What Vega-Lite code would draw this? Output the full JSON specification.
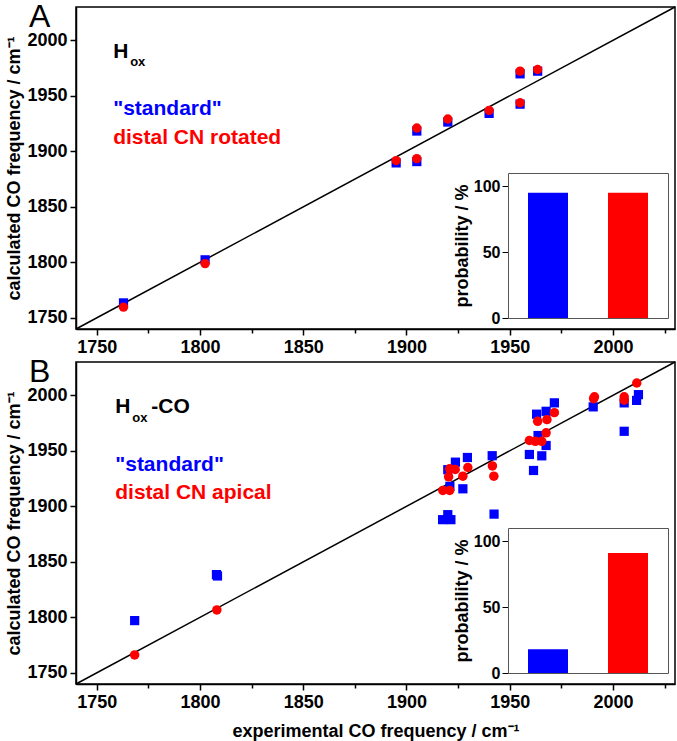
{
  "$schema": "https://vega.github.io/schema/vega-lite/v6.json",
  "padding": {"left": 5, "top": 0, "right": 0, "bottom": 0},
  "spacing": -2,
  "datasets": {
    "A": [
      {"model": "standard", "e": 1763, "c": 1763.5},
      {"model": "standard", "e": 1802.5, "c": 1802.3},
      {"model": "standard", "e": 1895, "c": 1889.6},
      {"model": "standard", "e": 1905, "c": 1890.8},
      {"model": "standard", "e": 1905, "c": 1918.3},
      {"model": "standard", "e": 1920, "c": 1926.4},
      {"model": "standard", "e": 1940, "c": 1934.2},
      {"model": "standard", "e": 1955, "c": 1942.5},
      {"model": "standard", "e": 1955, "c": 1969.8},
      {"model": "standard", "e": 1963.5, "c": 1972.2},
      {"model": "rotated", "e": 1763, "c": 1759.7},
      {"model": "rotated", "e": 1802.5, "c": 1798.9},
      {"model": "rotated", "e": 1895, "c": 1891.7},
      {"model": "rotated", "e": 1905, "c": 1893.4},
      {"model": "rotated", "e": 1905, "c": 1921},
      {"model": "rotated", "e": 1920, "c": 1929.1},
      {"model": "rotated", "e": 1940, "c": 1936.9},
      {"model": "rotated", "e": 1955, "c": 1943.8},
      {"model": "rotated", "e": 1955, "c": 1972.2},
      {"model": "rotated", "e": 1963.5, "c": 1973.7}
    ],
    "B": [
      {"model": "standard", "e": 1768.4, "c": 1797.1},
      {"model": "standard", "e": 1808, "c": 1838.5},
      {"model": "standard", "e": 1808.5, "c": 1837.3},
      {"model": "standard", "e": 1917.5, "c": 1888},
      {"model": "standard", "e": 1920, "c": 1892.5},
      {"model": "standard", "e": 1921.5, "c": 1888},
      {"model": "standard", "e": 1921, "c": 1918},
      {"model": "standard", "e": 1920, "c": 1933},
      {"model": "standard", "e": 1923.7, "c": 1939.8},
      {"model": "standard", "e": 1927.3, "c": 1915.8},
      {"model": "standard", "e": 1929.5, "c": 1944},
      {"model": "standard", "e": 1941.5, "c": 1945.6},
      {"model": "standard", "e": 1942.4, "c": 1893},
      {"model": "standard", "e": 1959.5, "c": 1946.7},
      {"model": "standard", "e": 1961.5, "c": 1932.3},
      {"model": "standard", "e": 1963.7, "c": 1963.8},
      {"model": "standard", "e": 1965.5, "c": 1945.5},
      {"model": "standard", "e": 1967.6, "c": 1954.8},
      {"model": "standard", "e": 1963, "c": 1983},
      {"model": "standard", "e": 1967.6, "c": 1985.6},
      {"model": "standard", "e": 1971.6, "c": 1993.2},
      {"model": "standard", "e": 1990.4, "c": 1989.6},
      {"model": "standard", "e": 2005.4, "c": 1993.2},
      {"model": "standard", "e": 2005.4, "c": 1967.6},
      {"model": "standard", "e": 2012.3, "c": 2000.6},
      {"model": "standard", "e": 2011.4, "c": 1995.4},
      {"model": "apical", "e": 1768.4, "c": 1766.2},
      {"model": "apical", "e": 1808.2, "c": 1806.7},
      {"model": "apical", "e": 1917.6, "c": 1914.3},
      {"model": "apical", "e": 1920.9, "c": 1914.3},
      {"model": "apical", "e": 1920.4, "c": 1926.6},
      {"model": "apical", "e": 1920.9, "c": 1933.8},
      {"model": "apical", "e": 1923.6, "c": 1933.2},
      {"model": "apical", "e": 1927.3, "c": 1927.2},
      {"model": "apical", "e": 1929.7, "c": 1935},
      {"model": "apical", "e": 1941.6, "c": 1936.4},
      {"model": "apical", "e": 1942.3, "c": 1927.2},
      {"model": "apical", "e": 1959.5, "c": 1959.3},
      {"model": "apical", "e": 1962.4, "c": 1958.6},
      {"model": "apical", "e": 1965.5, "c": 1958.6},
      {"model": "apical", "e": 1967.6, "c": 1966.2},
      {"model": "apical", "e": 1963.5, "c": 1976.6},
      {"model": "apical", "e": 1968, "c": 1978.1},
      {"model": "apical", "e": 1971.6, "c": 1984.4},
      {"model": "apical", "e": 1990.6, "c": 1997},
      {"model": "apical", "e": 1991, "c": 1998.6},
      {"model": "apical", "e": 2005.4, "c": 1998.6},
      {"model": "apical", "e": 2005.4, "c": 1995.6},
      {"model": "apical", "e": 2011.5, "c": 2011.1}
    ],
    "pA": [{"model": "standard", "p": 95}, {"model": "rotated", "p": 95}],
    "pB": [{"model": "standard", "p": 18}, {"model": "apical", "p": 91}]
  },
  "vconcat": [
    {
      "width": 599,
      "height": 322,
      "layer": [
        {
          "layer": [
            {
              "data": {"values": [{}]},
              "mark": {"type": "rule", "color": "black", "strokeWidth": 1.5},
              "encoding": {
                "x": {"datum": 1740, "type": "quantitative"},
                "y": {"datum": 1740, "type": "quantitative"},
                "x2": {"datum": 2030},
                "y2": {"datum": 2030}
              }
            },
            {
              "data": {"name": "A"},
              "mark": {"type": "point", "filled": true, "opacity": 1},
              "encoding": {
                "x": {"field": "e", "type": "quantitative", "scale": {"domain": [1740, 2030], "nice": false, "zero": false},
                  "axis": {"title": null, "values": [1750, 1775, 1800, 1825, 1850, 1875, 1900, 1925, 1950, 1975, 2000, 2025], "format": "d", "labelExpr": "datum.value % 50 === 0 ? datum.label : ''", "tickSize": {"condition": {"test": "datum.value % 50 === 0", "value": 6}, "value": 4}, "labelPadding": 3}},
                "y": {"field": "c", "type": "quantitative", "scale": {"domain": [1740, 2030], "nice": false, "zero": false},
                  "axis": {"title": "calculated CO frequency / cm⁻¹", "values": [1750, 1775, 1800, 1825, 1850, 1875, 1900, 1925, 1950, 1975, 2000, 2025], "format": "d", "labelExpr": "datum.value % 50 === 0 ? datum.label : ''", "tickSize": {"condition": {"test": "datum.value % 50 === 0", "value": 6}, "value": 4}, "labelPadding": 3, "titlePadding": 3}},
                "shape": {"field": "model", "type": "nominal", "scale": {"domain": ["standard", "rotated", "apical"], "range": ["square", "circle", "circle"]}, "legend": null},
                "size": {"field": "model", "type": "nominal", "scale": {"domain": ["standard", "rotated", "apical"], "range": [85, 90, 90]}, "legend": null},
                "color": {"field": "model", "type": "nominal", "scale": {"domain": ["standard", "rotated", "apical"], "range": ["#0000ff", "#ff0000", "#ff0000"]}, "legend": null}
              }
            },
            {
              "data": {"values": [{}]},
              "mark": {"type": "text", "text": "A", "fontSize": 32, "fontWeight": "normal", "align": "left", "baseline": "alphabetic", "color": "black", "dx": -47, "dy": 20},
              "encoding": {"x": {"datum": 1740, "type": "quantitative"}, "y": {"datum": 2030, "type": "quantitative"}}
            },
            {
              "data": {"values": [{}]},
              "mark": {"type": "text", "text": "H", "fontSize": 21, "fontWeight": "bold", "align": "left", "baseline": "alphabetic", "color": "black"},
              "encoding": {"x": {"datum": 1758, "type": "quantitative"}, "y": {"datum": 1984, "type": "quantitative"}}
            },
            {
              "data": {"values": [{}]},
              "mark": {"type": "text", "text": "ox", "fontSize": 13, "fontWeight": "bold", "align": "left", "baseline": "alphabetic", "color": "black", "dx": 17, "dy": 8},
              "encoding": {"x": {"datum": 1758, "type": "quantitative"}, "y": {"datum": 1984, "type": "quantitative"}}
            },
            {
              "data": {"values": [{}]},
              "mark": {"type": "text", "text": "\"standard\"", "fontSize": 21, "fontWeight": "bold", "align": "left", "baseline": "alphabetic", "color": "#0000ff"},
              "encoding": {"x": {"datum": 1758, "type": "quantitative"}, "y": {"datum": 1932.7, "type": "quantitative"}}
            },
            {
              "data": {"values": [{}]},
              "mark": {"type": "text", "text": "distal CN rotated", "fontSize": 21, "fontWeight": "bold", "align": "left", "baseline": "alphabetic", "color": "#ff0000"},
              "encoding": {"x": {"datum": 1758, "type": "quantitative"}, "y": {"datum": 1906.6, "type": "quantitative"}}
            }
          ]
        },
        {
          "data": {"name": "pA"},
          "layer": [
            {
              "mark": {"type": "bar"},
              "encoding": {
                "x": {"field": "model", "type": "nominal", "sort": null, "scale": {"range": [432, 592], "paddingInner": 0.5, "paddingOuter": 0.25},
                  "axis": {"orient": "bottom", "offset": -11, "labels": false, "ticks": false, "title": null, "domainColor": "#555555", "domainWidth": 1}},
                "y": {"field": "p", "type": "quantitative", "scale": {"domain": [0, 110], "range": [311, 166], "nice": false},
                  "axis": {"orient": "left", "offset": -432, "values": [0, 50, 100], "format": "d", "title": "probability / %", "labelFontSize": 16, "titleFontSize": 18, "tickSize": 6, "tickWidth": 1, "domainColor": "#555555", "domainWidth": 1, "labelPadding": 2, "titlePadding": 2}},
                "color": {"field": "model", "type": "nominal", "legend": null}
              }
            },
            {
              "mark": {"type": "bar", "opacity": 0},
              "encoding": {
                "x": {"field": "model", "type": "nominal", "sort": null,
                  "axis": {"orient": "top", "offset": -166, "labels": false, "ticks": false, "title": null, "domainColor": "#555555", "domainWidth": 1}},
                "y": {"field": "p", "type": "quantitative",
                  "axis": {"orient": "right", "offset": -7, "labels": false, "ticks": false, "title": null, "domainColor": "#555555", "domainWidth": 1}}
              }
            }
          ],
          "resolve": {"axis": {"x": "independent", "y": "independent"}}
        }
      ],
      "resolve": {"scale": {"x": "independent", "y": "independent"}, "axis": {"x": "independent", "y": "independent"}}
    },
    {
      "width": 599,
      "height": 322,
      "layer": [
        {
          "layer": [
            {
              "data": {"values": [{}]},
              "mark": {"type": "rule", "color": "black", "strokeWidth": 1.5},
              "encoding": {
                "x": {"datum": 1740, "type": "quantitative"},
                "y": {"datum": 1740, "type": "quantitative"},
                "x2": {"datum": 2030},
                "y2": {"datum": 2030}
              }
            },
            {
              "data": {"name": "B"},
              "mark": {"type": "point", "filled": true, "opacity": 1},
              "encoding": {
                "x": {"field": "e", "type": "quantitative", "scale": {"domain": [1740, 2030], "nice": false, "zero": false},
                  "axis": {"title": "experimental CO frequency / cm⁻¹", "values": [1750, 1775, 1800, 1825, 1850, 1875, 1900, 1925, 1950, 1975, 2000, 2025], "format": "d", "labelExpr": "datum.value % 50 === 0 ? datum.label : ''", "tickSize": {"condition": {"test": "datum.value % 50 === 0", "value": 6}, "value": 4}, "labelPadding": 3, "titlePadding": 11}},
                "y": {"field": "c", "type": "quantitative", "scale": {"domain": [1740, 2030], "nice": false, "zero": false},
                  "axis": {"title": "calculated CO frequency / cm⁻¹", "values": [1750, 1775, 1800, 1825, 1850, 1875, 1900, 1925, 1950, 1975, 2000, 2025], "format": "d", "labelExpr": "datum.value % 50 === 0 ? datum.label : ''", "tickSize": {"condition": {"test": "datum.value % 50 === 0", "value": 6}, "value": 4}, "labelPadding": 3, "titlePadding": 3}},
                "shape": {"field": "model", "type": "nominal", "legend": null},
                "size": {"field": "model", "type": "nominal", "legend": null},
                "color": {"field": "model", "type": "nominal", "legend": null}
              }
            },
            {
              "data": {"values": [{}]},
              "mark": {"type": "text", "text": "B", "fontSize": 32, "fontWeight": "normal", "align": "left", "baseline": "alphabetic", "color": "black", "dx": -47, "dy": 20},
              "encoding": {"x": {"datum": 1740, "type": "quantitative"}, "y": {"datum": 2030, "type": "quantitative"}}
            },
            {
              "data": {"values": [{}]},
              "mark": {"type": "text", "text": "H", "fontSize": 21, "fontWeight": "bold", "align": "left", "baseline": "alphabetic", "color": "black"},
              "encoding": {"x": {"datum": 1759, "type": "quantitative"}, "y": {"datum": 1984.2, "type": "quantitative"}}
            },
            {
              "data": {"values": [{}]},
              "mark": {"type": "text", "text": "ox", "fontSize": 13, "fontWeight": "bold", "align": "left", "baseline": "alphabetic", "color": "black", "dx": 17, "dy": 9},
              "encoding": {"x": {"datum": 1759, "type": "quantitative"}, "y": {"datum": 1984.2, "type": "quantitative"}}
            },
            {
              "data": {"values": [{}]},
              "mark": {"type": "text", "text": "-CO", "fontSize": 21, "fontWeight": "bold", "align": "left", "baseline": "alphabetic", "color": "black", "dx": 36},
              "encoding": {"x": {"datum": 1759, "type": "quantitative"}, "y": {"datum": 1984.2, "type": "quantitative"}}
            },
            {
              "data": {"values": [{}]},
              "mark": {"type": "text", "text": "\"standard\"", "fontSize": 21, "fontWeight": "bold", "align": "left", "baseline": "alphabetic", "color": "#0000ff"},
              "encoding": {"x": {"datum": 1759, "type": "quantitative"}, "y": {"datum": 1931.7, "type": "quantitative"}}
            },
            {
              "data": {"values": [{}]},
              "mark": {"type": "text", "text": "distal CN apical", "fontSize": 21, "fontWeight": "bold", "align": "left", "baseline": "alphabetic", "color": "#ff0000"},
              "encoding": {"x": {"datum": 1759, "type": "quantitative"}, "y": {"datum": 1906.2, "type": "quantitative"}}
            }
          ]
        },
        {
          "data": {"name": "pB"},
          "layer": [
            {
              "mark": {"type": "bar"},
              "encoding": {
                "x": {"field": "model", "type": "nominal", "sort": null, "scale": {"range": [432, 592], "paddingInner": 0.5, "paddingOuter": 0.25},
                  "axis": {"orient": "bottom", "offset": -11, "labels": false, "ticks": false, "title": null, "domainColor": "#555555", "domainWidth": 1}},
                "y": {"field": "p", "type": "quantitative", "scale": {"domain": [0, 110], "range": [311, 166], "nice": false},
                  "axis": {"orient": "left", "offset": -432, "values": [0, 50, 100], "format": "d", "title": "probability / %", "labelFontSize": 16, "titleFontSize": 18, "tickSize": 6, "tickWidth": 1, "domainColor": "#555555", "domainWidth": 1, "labelPadding": 2, "titlePadding": 2}},
                "color": {"field": "model", "type": "nominal", "legend": null}
              }
            },
            {
              "mark": {"type": "bar", "opacity": 0},
              "encoding": {
                "x": {"field": "model", "type": "nominal", "sort": null,
                  "axis": {"orient": "top", "offset": -166, "labels": false, "ticks": false, "title": null, "domainColor": "#555555", "domainWidth": 1}},
                "y": {"field": "p", "type": "quantitative",
                  "axis": {"orient": "right", "offset": -7, "labels": false, "ticks": false, "title": null, "domainColor": "#555555", "domainWidth": 1}}
              }
            }
          ],
          "resolve": {"axis": {"x": "independent", "y": "independent"}}
        }
      ],
      "resolve": {"scale": {"x": "independent", "y": "independent"}, "axis": {"x": "independent", "y": "independent"}}
    }
  ],
  "config": {
    "font": "Liberation Sans",
    "view": {"stroke": "black", "strokeWidth": 1.5},
    "axis": {"labelFont": "Liberation Sans", "labelFontWeight": "bold", "labelFontSize": 18, "labelColor": "black", "titleFont": "Liberation Sans", "titleFontWeight": "bold", "titleFontSize": 18, "titleColor": "black", "domainColor": "black", "domainWidth": 1.5, "tickColor": "black", "tickWidth": 1.5, "grid": false}
  }
}
